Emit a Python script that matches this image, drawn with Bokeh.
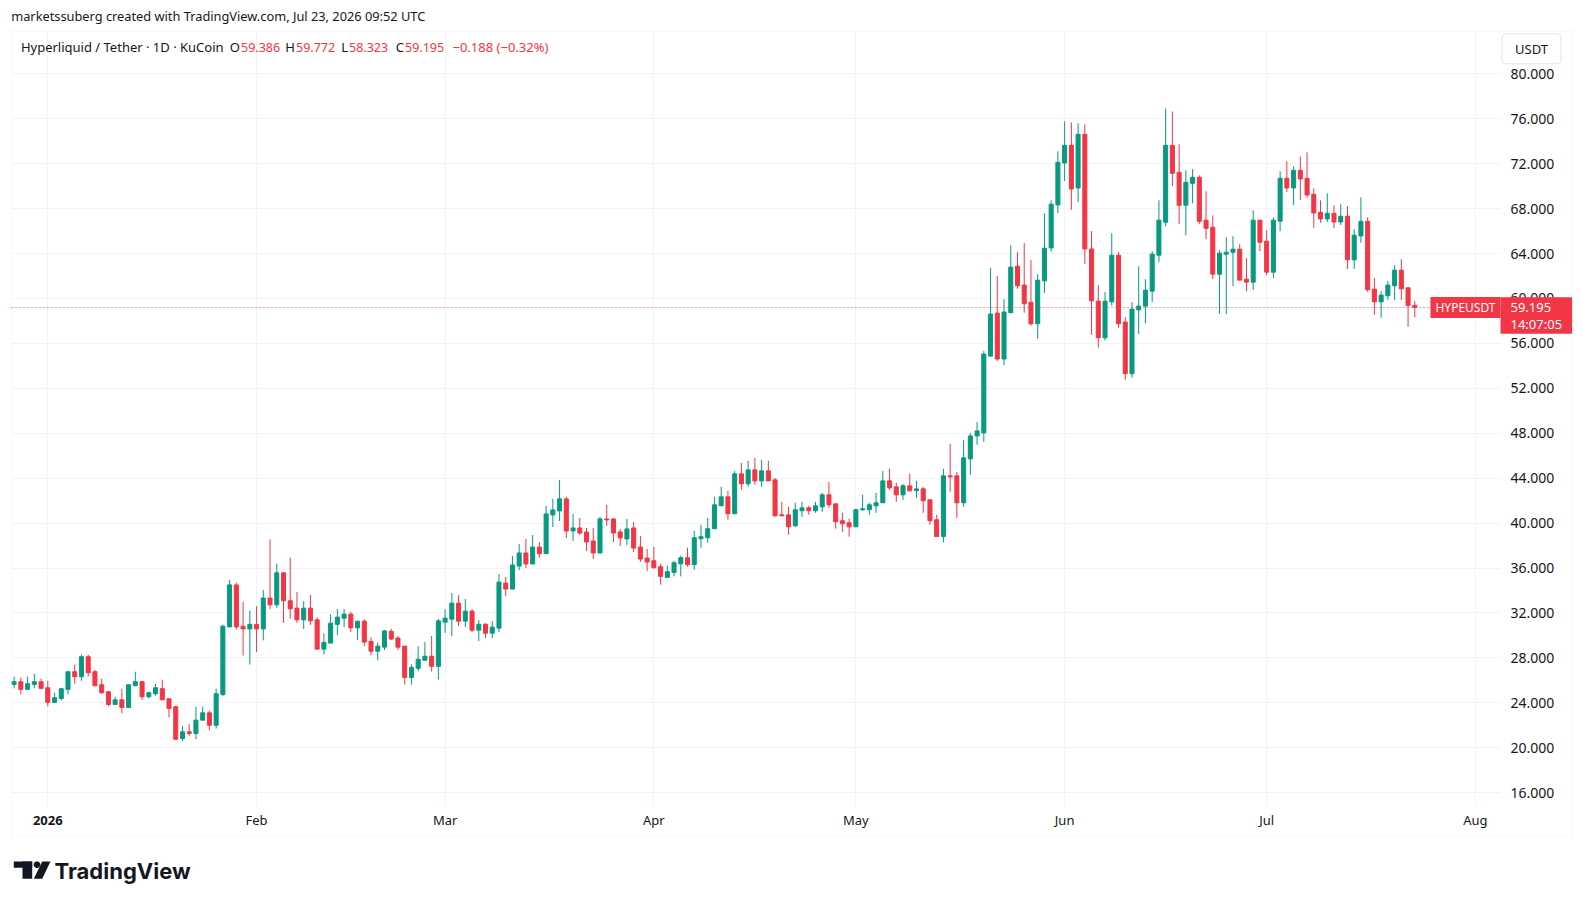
import numpy as np
import pandas as pd
from bokeh.plotting import figure
from bokeh.models import (ColumnDataSource, Range1d, FixedTicker, NumeralTickFormatter,
                          Label, BoxAnnotation, PolyAnnotation, DatetimeAxis)
from bokeh.embed import file_html
from bokeh.resources import INLINE

# ---------------- data ----------------
start_date = "2025-12-27"
end_date = "2026-07-23"

opens = [25.64, 25.88, 25.20, 25.64, 25.88,
         25.34, 24.04, 24.39, 25.20, 26.77, 26.33, 28.11, 26.77, 25.61, 24.99,
         23.86, 24.27, 23.59, 25.52, 25.88, 24.54, 24.81, 25.26, 24.36, 23.65,
         20.83, 21.42, 21.27, 22.46, 23.11, 22.01, 24.75, 30.76, 34.50, 30.82, 30.58,
         30.99, 30.58, 33.33, 32.73, 35.58, 33.09, 32.43, 31.39, 32.43, 31.39,
         28.78, 29.32, 30.99, 31.54, 31.90, 30.67, 31.27, 29.47, 28.60, 28.96,
         30.37, 29.77, 29.05, 26.26, 27.07, 27.79, 28.15, 27.25,
         31.18, 31.45, 32.88, 31.27, 32.16, 30.47, 31.00, 30.20, 30.65, 34.66,
         34.13, 36.18, 37.34, 36.36, 37.87, 37.28, 40.73, 41.09, 42.16, 39.30,
         39.57, 39.21, 38.41, 37.34, 40.37, 40.37, 39.21, 38.59, 39.57, 37.87, 36.89,
         36.65, 36.12, 35.17, 35.61, 36.38, 36.92, 36.30, 38.61, 38.70, 39.50,
         41.54, 42.34, 40.83, 44.39, 43.50, 44.74, 43.76, 44.65, 43.85, 40.74,
         40.74, 39.76, 41.10, 41.36, 41.10, 41.45, 42.52, 41.72, 40.21, 40.03,
         39.67, 41.19, 41.19, 41.54, 41.81, 43.76, 43.23, 42.52, 43.32, 42.90,
         43.05, 42.07, 40.30, 38.81, 44.21, 44.21, 41.81, 45.72, 47.76, 48.03,
         54.87, 58.70, 54.61, 58.73, 62.87, 61.19, 59.67, 57.75, 61.57, 64.50, 68.33,
         72.06, 73.63, 69.84, 74.61, 64.41, 59.76, 56.50, 59.70, 63.85, 57.90,
         53.30, 58.99, 59.32, 60.65, 63.85, 66.79, 73.63, 71.23, 68.30, 70.25,
         70.79, 66.97, 66.34, 62.16, 63.94, 64.12, 64.39, 61.72, 61.45, 66.97,
         65.10, 62.34, 66.88, 70.70, 69.84, 71.41, 70.70, 69.27, 67.67, 67.08,
         67.58, 66.81, 67.32, 63.44, 65.57, 66.87, 60.83, 59.70, 60.24, 61.13,
         62.52, 60.95, 59.386]
highs = [26.33, 26.24, 26.33, 26.59, 26.15,
         25.97, 24.90, 25.34, 26.77, 27.40, 28.29, 28.29, 26.95, 26.15, 24.99,
         24.54, 25.26, 25.61, 26.77, 25.97, 24.99, 25.70, 26.06, 24.36, 23.74,
         21.92, 22.10, 23.65, 23.65, 23.29, 25.26, 30.97, 34.95, 34.71, 33.00, 32.20,
         32.61, 34.05, 38.55, 36.39, 35.58, 36.93, 33.87, 33.06, 33.60, 31.60,
         30.19, 31.90, 32.35, 32.35, 32.10, 31.27, 31.45, 29.83, 29.38, 30.49,
         30.58, 29.95, 29.05, 27.43, 29.05, 29.41, 29.95, 31.48,
         32.34, 33.77, 33.59, 33.24, 32.34, 31.36, 31.09, 31.27, 35.47, 35.20,
         37.07, 38.14, 38.59, 38.94, 38.32, 41.53, 42.16, 43.85, 42.34, 40.82,
         40.46, 39.57, 39.57, 40.55, 41.62, 40.46, 39.48, 40.37, 40.10, 38.86, 37.70,
         37.90, 36.38, 36.21, 36.65, 37.10, 37.81, 39.32, 39.85, 40.47, 42.34,
         43.23, 42.87, 44.65, 45.36, 45.54, 45.81, 45.63, 45.54, 44.03, 41.90,
         41.45, 41.81, 41.90, 41.54, 41.90, 42.70, 43.67, 41.72, 40.92, 40.39,
         41.28, 42.52, 41.81, 42.70, 44.65, 44.83, 43.59, 43.50, 44.39, 43.76,
         43.23, 42.16, 40.74, 44.83, 47.05, 44.56, 47.41, 48.03, 49.01, 55.32,
         62.70, 61.98, 59.94, 64.74, 64.12, 64.92, 63.41, 62.16, 67.59, 68.74, 73.10,
         75.76, 75.67, 75.59, 75.50, 65.99, 61.19, 60.56, 65.81, 64.12, 58.34,
         59.67, 62.87, 61.72, 64.21, 68.74, 76.92, 76.65, 73.72, 71.41, 71.50,
         70.96, 69.54, 67.41, 64.30, 65.45, 65.54, 64.83, 63.59, 67.85, 66.97,
         66.07, 67.23, 71.32, 72.21, 71.76, 72.65, 73.01, 69.81, 68.74, 69.36,
         68.30, 68.39, 68.21, 66.16, 69.01, 67.23, 61.81, 60.65, 61.54, 62.96,
         63.49, 60.95, 59.772]
lows = [25.29, 24.75, 25.20, 25.29, 25.20,
        23.68, 24.04, 24.21, 24.75, 25.70, 25.97, 26.33, 25.52, 24.81, 23.68,
        23.86, 23.05, 23.59, 25.52, 24.27, 24.39, 24.63, 24.27, 22.70, 20.68,
        20.59, 21.03, 20.77, 22.46, 21.54, 21.72, 24.60, 30.76, 30.52, 28.21, 27.40,
        28.51, 29.56, 32.35, 32.46, 31.12, 31.48, 31.12, 30.58, 30.94, 28.78,
        28.30, 29.32, 30.04, 30.76, 30.31, 29.59, 29.05, 28.24, 27.79, 28.69,
        29.59, 28.69, 25.63, 25.63, 26.80, 27.79, 26.80, 26.08,
        30.23, 29.93, 30.83, 30.74, 30.29, 29.49, 29.76, 29.76, 30.29, 33.50,
        34.13, 35.82, 36.00, 36.36, 36.92, 37.28, 39.66, 40.19, 38.68, 38.41,
        38.94, 37.52, 36.80, 37.34, 39.75, 38.32, 37.96, 38.05, 37.43, 36.54, 35.73,
        35.94, 34.52, 35.17, 35.26, 35.26, 36.12, 35.85, 37.81, 38.25, 39.50,
        41.54, 40.30, 40.83, 42.96, 43.23, 43.41, 43.23, 43.76, 40.56, 40.65,
        38.96, 39.67, 40.56, 40.74, 40.92, 41.01, 41.36, 39.50, 39.23, 38.79,
        39.67, 41.10, 40.74, 40.92, 41.81, 42.96, 41.90, 42.07, 42.87, 42.25,
        40.92, 39.85, 38.81, 38.28, 42.79, 40.47, 41.45, 44.30, 46.96, 47.23,
        54.87, 54.43, 54.07, 58.73, 60.86, 58.73, 57.57, 56.42, 60.50, 64.15, 67.61,
        70.46, 67.88, 68.59, 63.08, 56.77, 55.62, 56.24, 59.35, 57.39, 52.77,
        52.95, 56.83, 57.80, 59.67, 63.23, 66.43, 69.99, 66.61, 65.63, 68.47,
        66.61, 65.27, 61.72, 58.66, 58.61, 61.10, 61.63, 60.65, 60.74, 64.21,
        62.07, 61.81, 65.99, 69.48, 68.33, 68.77, 68.95, 66.28, 66.73, 66.81,
        66.28, 66.55, 62.64, 62.64, 64.95, 60.59, 58.55, 58.28, 59.88, 59.88,
        59.88, 57.48, 58.323]
closes = [25.88, 25.20, 25.70, 25.88, 25.29,
          24.04, 24.45, 25.26, 26.77, 26.33, 28.11, 26.68, 25.52, 24.90, 23.86,
          24.27, 23.59, 25.61, 25.88, 24.54, 24.90, 25.34, 24.27, 23.50, 20.77,
          21.42, 21.27, 22.46, 23.11, 22.01, 24.81, 30.82, 34.50, 30.76, 30.58, 30.99,
          30.58, 33.33, 32.73, 35.58, 33.09, 32.37, 31.39, 32.43, 31.30, 28.78,
          29.38, 31.09, 31.63, 31.90, 30.67, 31.27, 29.41, 28.60, 29.05, 30.40,
          29.68, 28.96, 26.26, 27.16, 27.88, 28.15, 27.25, 31.30,
          31.54, 32.88, 31.27, 32.16, 30.47, 31.00, 30.20, 30.74, 34.75, 34.13,
          36.27, 37.34, 36.36, 37.87, 37.28, 40.82, 41.17, 42.16, 39.30, 39.57,
          39.12, 38.32, 37.34, 40.37, 40.28, 39.12, 38.68, 39.48, 37.78, 36.80, 36.54,
          36.03, 35.26, 35.67, 36.47, 36.92, 36.30, 38.70, 38.79, 39.50, 41.63,
          42.34, 40.83, 44.39, 43.50, 44.74, 43.76, 44.65, 43.76, 40.65, 40.65,
          39.67, 41.19, 41.36, 41.10, 41.54, 42.52, 41.63, 40.12, 39.94, 39.67,
          41.19, 41.28, 41.63, 41.81, 43.76, 43.14, 42.52, 43.32, 42.87, 43.05,
          41.99, 40.21, 38.81, 44.21, 44.12, 41.81, 45.81, 47.76, 48.21, 55.05,
          58.61, 54.61, 58.79, 62.79, 61.13, 59.53, 57.75, 61.63, 64.47, 68.39, 72.12,
          73.63, 69.75, 74.61, 64.41, 59.79, 56.50, 59.76, 63.85, 57.75, 53.30,
          59.05, 59.32, 60.74, 63.94, 66.97, 73.63, 71.14, 68.30, 70.34, 70.79,
          66.87, 66.25, 62.16, 64.03, 64.12, 64.39, 61.63, 61.45, 66.97, 65.01,
          62.34, 66.97, 70.70, 69.84, 71.41, 70.64, 69.21, 67.61, 67.08, 67.58,
          66.81, 67.32, 63.44, 65.63, 66.87, 60.77, 59.70, 60.30, 61.19, 62.52,
          60.86, 59.383, 59.195]

month_ticks = ["2026-01-01", "2026-02-01", "2026-03-01", "2026-04-01",
               "2026-05-01", "2026-06-01", "2026-07-01", "2026-08-01"]
month_labels = ["2026", "Feb", "Mar", "Apr", "May", "Jun", "Jul", "Aug"]
price_ticks = [16, 20, 24, 28, 32, 36, 40, 44, 48, 52, 56, 60, 64, 68, 72, 76, 80]

header_text = "marketssuberg created with TradingView.com, Jul 23, 2026 09:52 UTC"
pair_text = "Hyperliquid / Tether \u00b7 1D \u00b7 KuCoin"
symbol = "HYPEUSDT"
quote = "USDT"
countdown = "14:07:05"
brand = "TradingView"

# ---------------- style / geometry ----------------
UP = "#089981"
DOWN = "#F23645"
TXT = "#131722"
GRID = "#f0f3fa"
BORDER = "#e0e3eb"
FONT = "Noto Sans"

W, H = 1575, 894
X_JAN1, PX_DAY = 47.3, 6.734      # page px of Jan 1, px per day
Y_80, PX_UNIT = 73.3, 11.233      # page px of 80 USDT, px per USDT
PANE_L, PANE_R, PANE_T, PANE_B = 11, 1500, 31, 805
BOX_R, BOX_B = 1572, 835

jan1 = pd.Timestamp("2026-01-01")
day_ms = 86400000


def px_time(px):
    return jan1 + pd.Timedelta(days=(px - X_JAN1) / PX_DAY)


def px_ms(px):
    return px_time(px).value / 1e6


def py_price(py):
    return 80 - (py - Y_80) / PX_UNIT


def sy(py):
    return H - py


dates = pd.date_range(start_date, end_date, freq="D")
o = np.array(opens)
c = np.array(closes)
colors = np.where(c >= o, UP, DOWN)
src = ColumnDataSource(dict(x=dates, open=o, high=highs, low=lows, close=c,
                            top=np.maximum(o, c), bottom=np.minimum(o, c), color=colors))

p = figure(width=W, height=H, x_axis_type="datetime", y_axis_location="right",
           x_range=Range1d(start=px_time(0), end=px_time(W)),
           y_range=Range1d(start=py_price(H), end=py_price(0)),
           toolbar_location=None, output_backend="svg", min_border=0)
p.title.visible = False
p.outline_line_color = None
p.background_fill_color = "white"
p.border_fill_color = "white"

tick_ms = [pd.Timestamp(t).value / 1e6 for t in month_ticks]

# month axis (normal weight)
xa = p.xaxis[0]
xa.ticker = FixedTicker(ticks=tick_ms[1:])
xa.major_label_overrides = {t: lab for t, lab in zip(tick_ms[1:], month_labels[1:])}
# year axis (bold)
ya_year = DatetimeAxis(ticker=FixedTicker(ticks=tick_ms[:1]),
                       major_label_overrides={tick_ms[0]: month_labels[0]})
p.add_layout(ya_year, "below")

yax = p.yaxis[0]
yax.ticker = FixedTicker(ticks=price_ticks)
yax.formatter = NumeralTickFormatter(format="0.000")

for ax in (xa, ya_year, yax):
    ax.axis_line_color = None
    ax.major_tick_line_color = None
    ax.minor_tick_line_color = None
    ax.major_tick_out = 0
    ax.major_tick_in = 0
    ax.major_label_text_font = FONT
    ax.major_label_text_color = TXT
    ax.major_label_text_font_size = "13px"
for ax in (xa, ya_year):
    ax.fixed_location = py_price(PANE_B)
xa.major_label_standoff = 5
ya_year.major_label_standoff = 10
ya_year.major_label_text_font_style = "bold"
yax.fixed_location = px_ms(PANE_R)
yax.major_label_standoff = 10
yax.major_label_text_font_size = "14px"

p.xgrid.ticker = FixedTicker(ticks=tick_ms)
p.xgrid.grid_line_color = GRID
p.ygrid.grid_line_color = GRID
if "cross_bounds" in p.xgrid[0].properties():
    p.xgrid.cross_bounds = (py_price(PANE_B), py_price(PANE_T))
    p.ygrid.cross_bounds = (px_ms(PANE_L), px_ms(PANE_R))

# candles
p.segment(x0="x", y0="low", x1="x", y1="high", line_color="color", line_width=1, source=src)
p.vbar(x="x", width=0.6 * day_ms, top="top", bottom="bottom", fill_color="color",
       line_color="color", line_width=1, source=src)

# last price dotted line
p.segment(x0=[px_time(PANE_L)], x1=[px_time(PANE_R)], y0=[closes[-1]], y1=[closes[-1]],
          line_color=DOWN, line_dash="1 3", line_width=1)

# outer frame
p.add_layout(BoxAnnotation(left=PANE_L, right=BOX_R, top=sy(PANE_T), bottom=sy(BOX_B),
                           left_units="screen", right_units="screen",
                           top_units="screen", bottom_units="screen",
                           fill_color=None, line_color=BORDER, line_width=1))

# header
p.add_layout(Label(x=10.7, y=sy(15.2), x_units="screen", y_units="screen", text=header_text,
                   text_font=FONT, text_font_size="12.8px", text_color=TXT,
                   text_baseline="middle", text_align="left"))

# legend line
chg = closes[-1] - closes[-2]
pct = chg / closes[-2] * 100


def fmt(v):
    return f"{v:.3f}".replace("-", "\u2212")


LEG_Y = sy(46.9)
p.add_layout(Label(x=20.4, y=LEG_Y, x_units="screen", y_units="screen", text=pair_text,
                   text_font=FONT, text_font_size="13px", text_color=TXT,
                   text_baseline="middle", text_align="left"))
ohlc_parts = [("O", opens[-1], 240.5), ("H", highs[-1], 295.5),
              ("L", lows[-1], 348.5), ("C", closes[-1], 404.5)]
for letter, val, px in ohlc_parts:
    p.add_layout(Label(x=px - 1, y=LEG_Y, x_units="screen", y_units="screen", text=letter,
                       text_font=FONT, text_font_size="13px", text_color=TXT,
                       text_baseline="middle", text_align="right"))
    p.add_layout(Label(x=px, y=LEG_Y, x_units="screen", y_units="screen", text=fmt(val),
                       text_font=FONT, text_font_size="12.5px", text_color=DOWN,
                       text_baseline="middle", text_align="left"))
p.add_layout(Label(x=452, y=LEG_Y, x_units="screen", y_units="screen",
                   text=f"{fmt(chg)} ({pct:.2f}%)".replace("-", "\u2212"),
                   text_font=FONT, text_font_size="13px", text_color=DOWN,
                   text_baseline="middle", text_align="left"))

# USDT box
p.add_layout(Label(x=1531, y=sy(48.3), x_units="screen", y_units="screen", text=quote,
                   text_font=FONT, text_font_size="13px", text_color=TXT,
                   text_baseline="middle", text_align="center",
                   background_fill_color="white", border_line_color=BORDER,
                   border_radius=4, padding=(13, 6)))

# last price labels
p.add_layout(Label(x=PANE_R, y=closes[-1], x_units="screen", y_units="data", text=symbol,
                   text_font=FONT, text_font_size="12px", text_color="white",
                   text_baseline="middle", text_align="right",
                   background_fill_color=DOWN, padding=(5, 2)))
p.add_layout(Label(x=PANE_R, y=closes[-1], x_units="screen", y_units="data",
                   text=f"{closes[-1]:.3f}\n{countdown}", y_offset=-8,
                   text_font=FONT, text_font_size="13px", text_color="white",
                   text_line_height=0.91,
                   text_baseline="middle", text_align="left",
                   background_fill_color=DOWN, padding=(10, 1)))

# brand logo
LOGO = "#131722"
for l, r, t, b in [(13.3, 31.7, 861, 867.3), (22.0, 31.7, 861, 878.3)]:
    p.add_layout(BoxAnnotation(left=l, right=r, top=sy(t), bottom=sy(b),
                               left_units="screen", right_units="screen",
                               top_units="screen", bottom_units="screen",
                               fill_color=LOGO, fill_alpha=1, line_color=None))
ang = np.linspace(0, 2 * np.pi, 24, endpoint=False)
p.add_layout(PolyAnnotation(xs=list(36.5 + 3.3 * np.cos(ang)),
                            ys=list(sy(864.2) + 3.3 * np.sin(ang)),
                            xs_units="screen", ys_units="screen",
                            fill_color=LOGO, fill_alpha=1, line_color=None))
p.add_layout(PolyAnnotation(xs=[41.7, 50.0, 41.7, 33.3],
                            ys=[sy(861), sy(861), sy(878.3), sy(878.3)],
                            xs_units="screen", ys_units="screen",
                            fill_color=LOGO, fill_alpha=1, line_color=None))
p.add_layout(Label(x=54, y=sy(870.5), x_units="screen", y_units="screen", text=brand,
                   text_font="Inter", text_font_size="22px", text_font_style="bold",
                   text_color=LOGO, text_baseline="alphabetic", text_align="left"))

open("out.html", "w").write(file_html(p, INLINE))
